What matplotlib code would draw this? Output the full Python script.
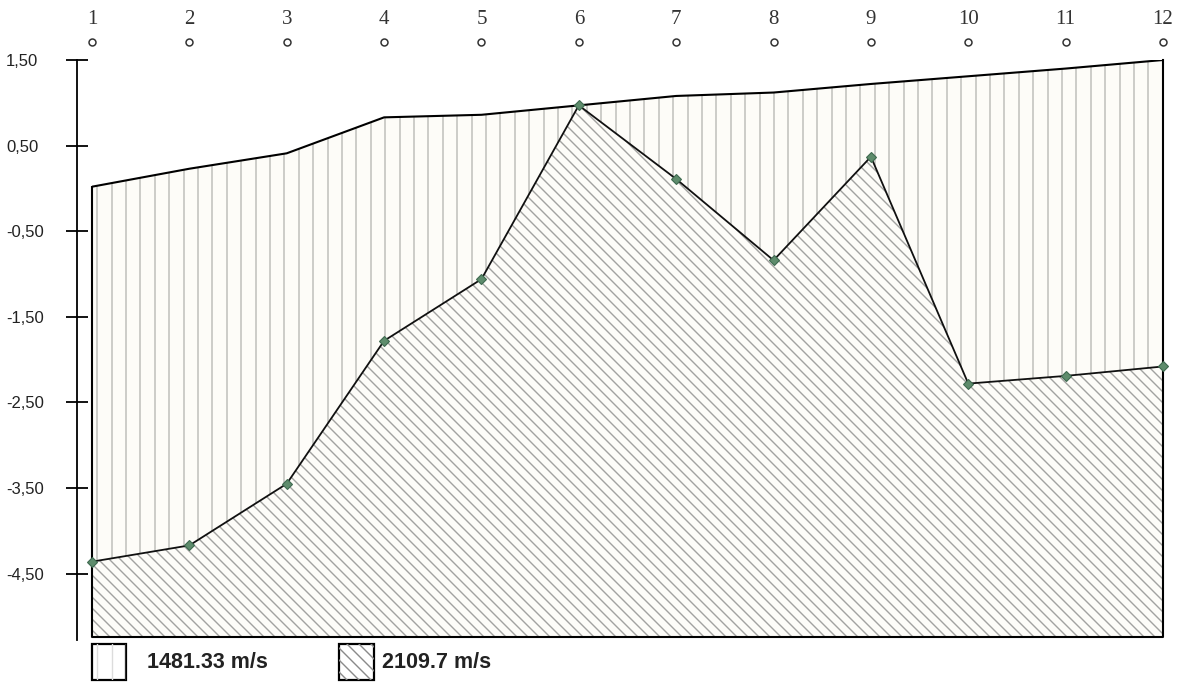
import matplotlib.pyplot as plt
import numpy as np
from matplotlib.collections import LineCollection
from matplotlib.patches import Rectangle
from matplotlib.transforms import IdentityTransform, blended_transform_factory

# data
stations = [1, 2, 3, 4, 5, 6, 7, 8, 9, 10, 11, 12]
surface = [0.02, 0.23, 0.41, 0.83, 0.86, 0.97, 1.08, 1.12, 1.22, 1.31, 1.40, 1.50]
boundary = [-4.36, -4.17, -3.45, -1.78, -1.06, 0.97, 0.11, -0.84, 0.37, -2.28, -2.19, -2.08]
layer_names = ['1481.33 m/s', '2109.7 m/s']
ytick_vals = [1.5, 0.5, -0.5, -1.5, -2.5, -3.5, -4.5]
ytick_labels = ['1,50', '0,50', '-0,50', '-1,50', '-2,50', '-3,50', '-4,50']
y_bottom = -5.24

W, H = 1181, 684
fig = plt.figure(figsize=(W / 100, H / 100), dpi=100)
ax = fig.add_axes([92 / W, 1 - 637 / H, 1071 / W, 577 / H])
ax.set_xlim(1, 12)
ax.set_ylim(y_bottom, 1.5)


def hatch(artist_path, path_transform, angle, spacing, color, lw, target, z=2):
    # parallel lines in pixel space, clipped to the given path
    verts = path_transform.transform(artist_path.vertices)
    x0, y0 = verts.min(axis=0) - 2
    x1, y1 = verts.max(axis=0) + 2
    segs = []
    if angle == 90:
        for xx in np.arange(x0 + spacing / 2, x1, spacing):
            segs.append([(xx, y0), (xx, y1)])
    else:
        span = (x1 - x0) + (y1 - y0)
        for c in np.arange(x0, x0 + span, spacing):
            segs.append([(c - (y1 - y0), y1), (c, y0)])
    lc = LineCollection(segs, colors=color, linewidths=lw,
                        transform=IdentityTransform(), zorder=z)
    lc.set_clip_path(artist_path, path_transform)
    if target is ax:
        ax.add_collection(lc, autolim=False)
    else:
        fig.add_artist(lc)


bg = '#fdfcf8'
upper = ax.fill_between(stations, boundary, surface, facecolor=bg, linewidth=0)
lower = ax.fill_between(stations, y_bottom, boundary, facecolor=bg, linewidth=0)
hatch(upper.get_paths()[0], ax.transData, 90, 14.4, '#c8c8c4', 1.3, ax)
hatch(lower.get_paths()[0], ax.transData, 45, 11.0, '#a2a2a0', 1.0, ax)

# outline
ax.plot(stations, surface, color='black', lw=1.5, zorder=5)
ax.plot([1, 1, 12, 12], [surface[0], y_bottom, y_bottom, surface[-1]],
        color='black', lw=1.5, zorder=5, clip_on=False)
ax.plot(stations, boundary, color='#111111', lw=1.3, zorder=6, clip_on=False,
        marker='D', markersize=5.5, markerfacecolor='#5e8c6c',
        markeredgecolor='#3f6a50', markeredgewidth=0.8)

# axes styling
for s in ['top', 'right', 'bottom']:
    ax.spines[s].set_visible(False)
ax.spines['left'].set_position(('outward', 10.8))
ax.spines['left'].set_linewidth(1.3)
ax.spines['left'].set_bounds(y_bottom - 0.03, 1.5)
ax.set_xticks([])
ax.set_yticks(ytick_vals)
ax.set_yticklabels(ytick_labels, fontfamily='Liberation Sans', fontsize=12,
                   color='#222222', ha='left')
ax.tick_params(axis='y', direction='inout', length=16, width=1.3, pad=43)
ax.set_facecolor('white')

# station labels on top
trans = blended_transform_factory(ax.transData, ax.transAxes)
for s in stations:
    ax.text(s, 1 + 41 / 577, str(s), transform=trans, ha='center', va='center',
            fontfamily='Liberation Serif', fontsize=15, color='#333333')
ax.plot(stations, [1 + 18 / 577] * len(stations), transform=trans, ls='none',
        marker='o', markersize=5, markerfacecolor='white',
        markeredgecolor='#333333', markeredgewidth=1.1, clip_on=False)


# legend
def px(x, y):
    return x / W, 1 - y / H


boxes = [(92, 126), (339, 374)]
text_x = [147, 382]
for i, name in enumerate(layer_names):
    bx0, bx1 = boxes[i]
    rect = Rectangle(px(bx0, 680), (bx1 - bx0) / W, 36 / H, transform=fig.transFigure,
                     facecolor='white', edgecolor='black', linewidth=1.6, zorder=3)
    fig.add_artist(rect)
    hatch(rect.get_path(), rect.get_patch_transform() + fig.transFigure,
          90 if i == 0 else 45, 14.4 if i == 0 else 12.0,
          '#dcdcdc' if i == 0 else '#8a8a8a', 1.0, fig, z=4)
    fig.text(*px(text_x[i], 662), name, ha='left', va='center',
             fontfamily='Liberation Sans', fontweight='bold', fontsize=15.5, color='#222222')

fig.savefig('out.png', dpi=100)
